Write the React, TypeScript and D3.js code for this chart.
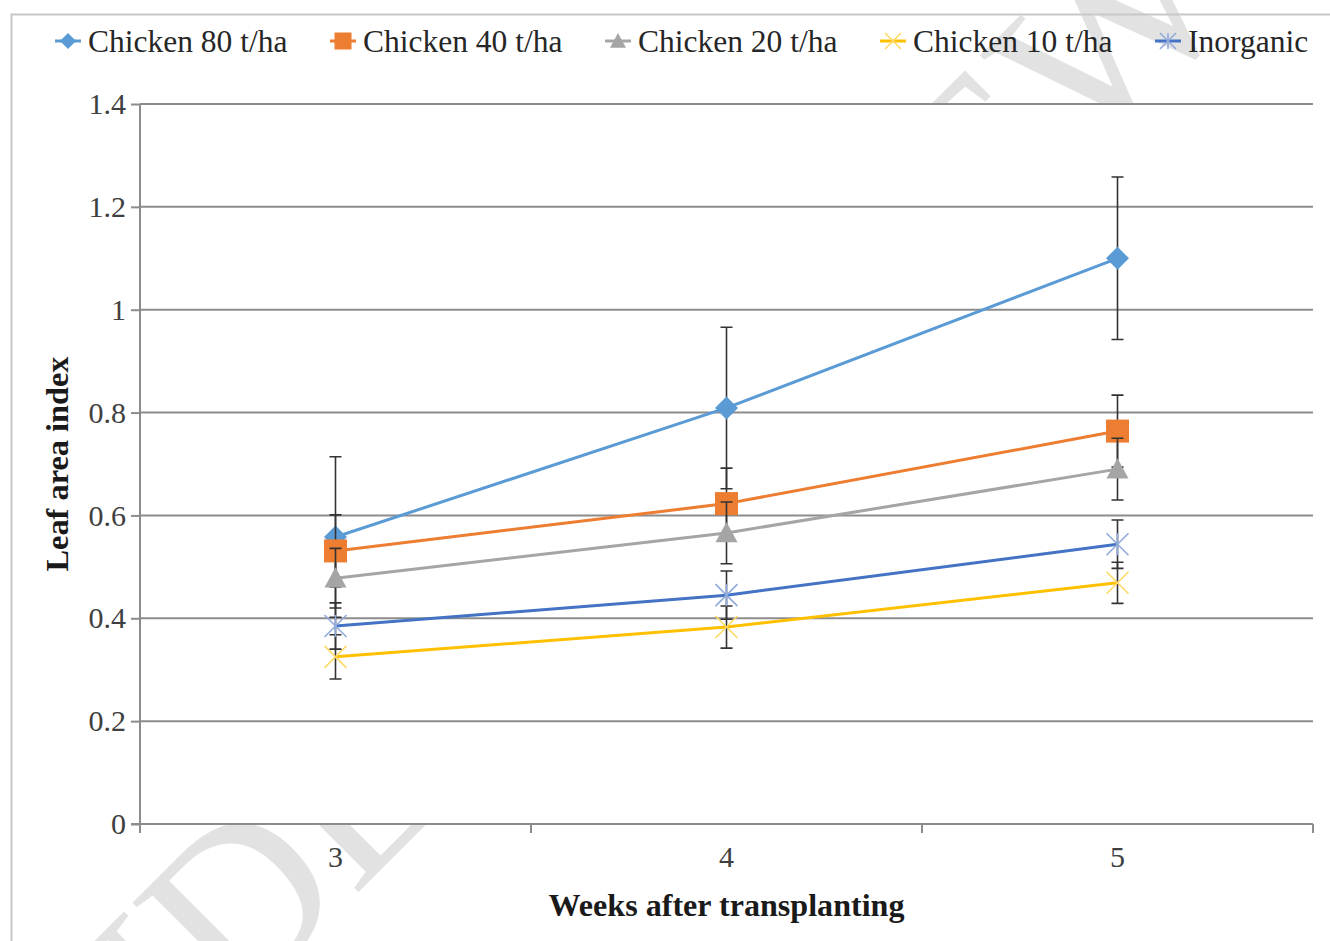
import React, { useEffect, useRef } from "react";
import * as d3 from "d3";

// Leaf area index by week after transplanting
const weeks = ["3", "4", "5"];
const yTicks = [0, 0.2, 0.4, 0.6, 0.8, 1, 1.2, 1.4];

const seriesNames = ["Chicken 80 t/ha", "Chicken 40 t/ha", "Chicken 20 t/ha", "Chicken 10 t/ha", "Inorganic"];

const chicken80 = [0.558, 0.809, 1.1];
const chicken80Err = [0.156, 0.157, 0.158];
const chicken40 = [0.531, 0.623, 0.764];
const chicken40Err = [0.07, 0.069, 0.07];
const chicken20 = [0.478, 0.566, 0.69];
const chicken20Err = [0.058, 0.06, 0.06];
const chicken10 = [0.325, 0.383, 0.469];
const chicken10Err = [0.043, 0.041, 0.04];
const inorganic = [0.385, 0.445, 0.544];
const inorganicErr = [0.045, 0.047, 0.047];

type Marker = "diamond" | "square" | "triangle" | "x" | "star";

interface Series {
  name: string;
  values: number[];
  errors: number[];
  color: string;
  markerColor: string;
  marker: Marker;
}

const series: Series[] = [
  { name: seriesNames[0], values: chicken80, errors: chicken80Err, color: "#5B9BD5", markerColor: "#5B9BD5", marker: "diamond" },
  { name: seriesNames[1], values: chicken40, errors: chicken40Err, color: "#ED7D31", markerColor: "#ED7D31", marker: "square" },
  { name: seriesNames[2], values: chicken20, errors: chicken20Err, color: "#A5A5A5", markerColor: "#A5A5A5", marker: "triangle" },
  { name: seriesNames[3], values: chicken10, errors: chicken10Err, color: "#FFC000", markerColor: "#FFD966", marker: "x" },
  { name: seriesNames[4], values: inorganic, errors: inorganicErr, color: "#4472C4", markerColor: "#8FAADC", marker: "star" },
];

const W = 1330;
const H = 941;
const SERIF = "'Times New Roman', 'Liberation Serif', 'DejaVu Serif', serif";

function drawMarker(
  g: d3.Selection<SVGGElement, unknown, null, undefined>,
  kind: Marker,
  cx: number,
  cy: number,
  size: number,
  color: string
) {
  const h = size / 2;
  if (kind === "diamond") {
    g.append("path")
      .attr("d", `M${cx},${cy - h}L${cx + h},${cy}L${cx},${cy + h}L${cx - h},${cy}Z`)
      .attr("fill", color);
  } else if (kind === "square") {
    g.append("rect")
      .attr("x", cx - h)
      .attr("y", cy - h)
      .attr("width", size)
      .attr("height", size)
      .attr("fill", color);
  } else if (kind === "triangle") {
    g.append("path")
      .attr("d", `M${cx},${cy - h}L${cx + h},${cy + h * 0.85}L${cx - h},${cy + h * 0.85}Z`)
      .attr("fill", color);
  } else {
    g.append("path")
      .attr("d", `M${cx - h},${cy - h}L${cx + h},${cy + h}M${cx - h},${cy + h}L${cx + h},${cy - h}`)
      .attr("stroke", color)
      .attr("stroke-width", 1.6)
      .attr("fill", "none");
    if (kind === "star") {
      g.append("path")
        .attr("d", `M${cx},${cy - h}L${cx},${cy + h}`)
        .attr("stroke", color)
        .attr("stroke-width", 1.6);
    }
  }
}

export default function App() {
  const svgRef = useRef<SVGSVGElement>(null);

  useEffect(() => {
    if (!svgRef.current) return;
    const svg = d3.select(svgRef.current);
    svg.selectAll("*").remove();

    const plot = { left: 140, right: 1313, top: 104, bottom: 824 };

    const x = d3.scaleBand<string>().domain(weeks).range([plot.left, plot.right]).paddingInner(0).paddingOuter(0);
    const y = d3.scaleLinear().domain([0, 1.4]).range([plot.bottom, plot.top]);
    const cx = (w: string) => (x(w) ?? 0) + x.bandwidth() / 2;

    svg.append("rect").attr("width", W).attr("height", H).attr("fill", "#fff");

    // watermark, mostly hidden behind the plot area
    svg.append("text")
      .attr("transform", "translate(565,575) rotate(-45)")
      .attr("y", 78)
      .attr("text-anchor", "middle")
      .style("font-family", SERIF)
      .attr("font-size", 232)
      .attr("fill", "#e2e2e2")
      .text("UNDER REVIEW");

    // outer frame
    svg.append("rect")
      .attr("x", 11.5)
      .attr("y", 14.5)
      .attr("width", 1400)
      .attr("height", 1000)
      .attr("fill", "none")
      .attr("stroke", "#c8c8c8")
      .attr("stroke-width", 2);

    // plot area
    svg.append("rect")
      .attr("x", plot.left)
      .attr("y", plot.top)
      .attr("width", plot.right - plot.left)
      .attr("height", plot.bottom - plot.top)
      .attr("fill", "#fff");

    // grid lines
    svg.append("g")
      .selectAll("line")
      .data(yTicks.slice(1))
      .enter()
      .append("line")
      .attr("x1", plot.left)
      .attr("x2", plot.right)
      .attr("y1", (d) => y(d))
      .attr("y2", (d) => y(d))
      .attr("stroke", "#8c8c8c")
      .attr("stroke-width", 2);

    // y axis
    const yAxis = svg.append("g").attr("transform", `translate(${plot.left},0)`)
      .call(d3.axisLeft(y).tickValues(yTicks).tickSize(9).tickPadding(5).tickFormat((d) => String(d)));
    yAxis.select(".domain").attr("stroke", "#8c8c8c").attr("stroke-width", 2).attr("d", `M0,${plot.top}V${plot.bottom + 6}`);
    yAxis.selectAll(".tick line").attr("stroke", "#8c8c8c").attr("stroke-width", 2);
    yAxis.selectAll(".tick text")
      .style("font-family", SERIF)
      .attr("font-size", 30)
      .attr("fill", "#404040");

    // x axis
    const xAxis = svg.append("g").attr("transform", `translate(0,${plot.bottom})`)
      .call(d3.axisBottom(x).tickSize(0).tickPadding(22));
    xAxis.select(".domain").remove();
    xAxis.append("line")
      .attr("x1", plot.left - 9)
      .attr("x2", plot.right)
      .attr("stroke", "#8c8c8c")
      .attr("stroke-width", 2);
    xAxis.selectAll(".tick text")
      .style("font-family", SERIF)
      .attr("font-size", 30)
      .attr("fill", "#404040");
    const bounds = [...weeks.map((w) => x(w) ?? 0), plot.right];
    xAxis.selectAll(".xtick")
      .data(bounds)
      .enter()
      .append("line")
      .attr("x1", (d) => d)
      .attr("x2", (d) => d)
      .attr("y1", 0)
      .attr("y2", 9)
      .attr("stroke", "#8c8c8c")
      .attr("stroke-width", 2);

    // axis titles
    svg.append("text")
      .attr("x", (plot.left + plot.right) / 2)
      .attr("y", 916)
      .attr("text-anchor", "middle")
      .style("font-family", SERIF)
      .attr("font-weight", "bold")
      .attr("font-size", 32)
      .attr("textLength", 356)
      .attr("lengthAdjust", "spacingAndGlyphs")
      .attr("fill", "#1a1a1a")
      .text("Weeks after transplanting");

    svg.append("text")
      .attr("transform", `translate(68,${(plot.top + plot.bottom) / 2}) rotate(-90)`)
      .attr("text-anchor", "middle")
      .style("font-family", SERIF)
      .attr("font-weight", "bold")
      .attr("font-size", 32)
      .attr("textLength", 215)
      .attr("lengthAdjust", "spacingAndGlyphs")
      .attr("fill", "#1a1a1a")
      .text("Leaf area index");

    // series
    const line = d3.line<number>()
      .x((_, i) => cx(weeks[i]))
      .y((d) => y(d));

    series.forEach((s) => {
      const g = svg.append("g");
      g.append("path")
        .datum(s.values)
        .attr("d", line)
        .attr("fill", "none")
        .attr("stroke", s.color)
        .attr("stroke-width", 3);

      s.values.forEach((v, i) => {
        const px = cx(weeks[i]);
        const top = y(v + s.errors[i]);
        const bot = y(v - s.errors[i]);
        g.append("path")
          .attr("d", `M${px},${top}V${bot}M${px - 6},${top}H${px + 6}M${px - 6},${bot}H${px + 6}`)
          .attr("stroke", "#333")
          .attr("stroke-width", 1.6)
          .attr("fill", "none");
      });

      s.values.forEach((v, i) => {
        const sz = s.marker === "x" || s.marker === "star" ? 22 : s.marker === "triangle" ? 22 : 23;
        drawMarker(g, s.marker, cx(weeks[i]), y(v), sz, s.markerColor);
      });
    });

    // legend
    const legend = svg.append("g");
    series.forEach((s, i) => {
      const lx = 55 + i * 275;
      const ly = 41;
      legend.append("line")
        .attr("x1", lx)
        .attr("x2", lx + 26)
        .attr("y1", ly)
        .attr("y2", ly)
        .attr("stroke", s.color)
        .attr("stroke-width", 3);
      drawMarker(legend, s.marker, lx + 13, ly, s.marker === "square" ? 17 : 16, s.markerColor);
      legend.append("text")
        .attr("x", lx + 33)
        .attr("y", ly + 11)
        .style("font-family", SERIF)
        .attr("font-size", 31.5)
        .attr("fill", "#262626")
        .text(s.name);
    });
  }, []);

  return (
    <svg
      ref={svgRef}
      width={W}
      height={H}
      style={{ position: "absolute", left: 0, top: 0 }}
    />
  );
}
